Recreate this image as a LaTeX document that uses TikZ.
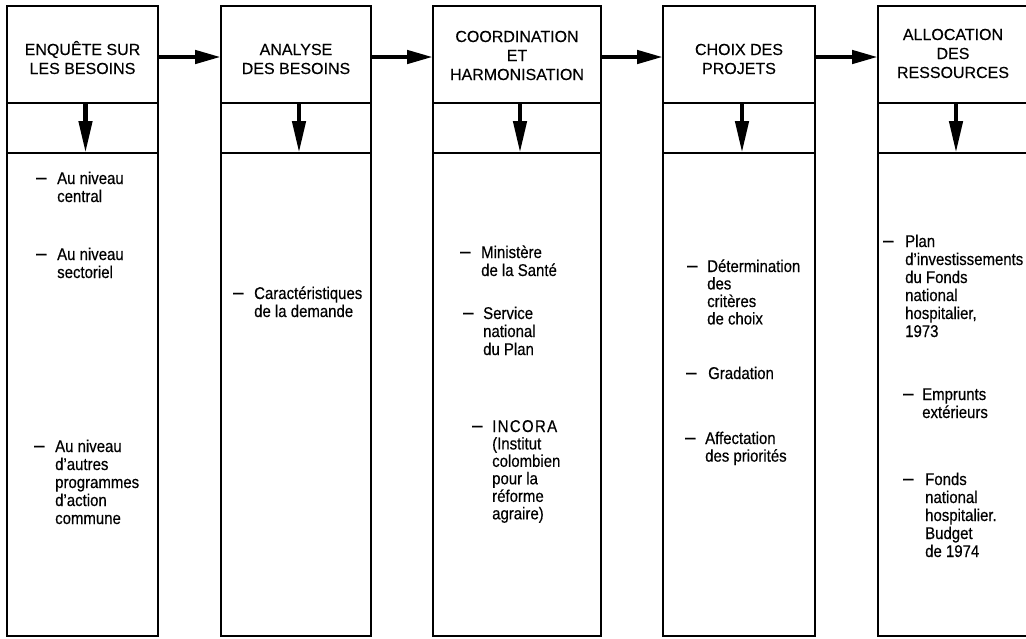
\documentclass[tikz,border=0pt]{standalone}
\usepackage{fontspec}
\setmainfont{Liberation Sans}[FakeBold=0.3]
\newfontfamily\bodyfont[FakeStretch=0.88,FakeBold=0.4]{Liberation Sans}
\usetikzlibrary{arrows.meta}

% one stage: header box, arrow band, list box
% #1 suffix, #2 left x, #3 width
\newcommand\mkstage[3]{%
  \node[frame, minimum width=#3pt, minimum height=97pt, anchor=north west] (h#1) at (#2,6) {};
  \node[frame, minimum width=#3pt, minimum height=50pt, anchor=north west] (b#1) at (h#1.south west) {};
  \node[frame, minimum width=#3pt, minimum height=483pt, anchor=north west] (m#1) at (b#1.south west) {};
}
% list entry: [line spacing]{name}{dash x}{text x}{first baseline}{lines}
\newcommand\bitem[6][18]{%
  \node[dashmark] (#2d) at (#3,#5) {–};
  \node[itm] (#2) at (#4,#5) {\fontsize{17}{#1}\selectfont\begin{tabular}[t]{@{}l@{}}#6\end{tabular}};
}

\begin{document}
\begin{tikzpicture}[x=1pt,y=-1pt,
  frame/.style={draw, line width=1.3pt, inner sep=0pt, outer sep=0pt},
  head/.style={font=\fontsize{16}{19}\selectfont, inner sep=0pt, anchor=base},
  itm/.style={font=\bodyfont, inner sep=0pt, anchor=base west},
  dashmark/.style={font=\bodyfont\fontsize{21}{18}\selectfont, inner sep=0pt, anchor=base west},
  harrow/.style={line width=4.5pt, -{Triangle[length=26pt,width=13pt]}},
  varrow/.style={line width=4.5pt, -{Triangle[length=32pt,width=13pt]}},
]
\useasboundingbox (0,0) rectangle (1026,638);

\mkstage{1}{7}{151}
\mkstage{2}{221}{150}
\mkstage{3}{433}{168}
\mkstage{4}{663}{152}
\mkstage{5}{878}{150}

% stage titles
\node[head] (t1) at (82.5,55) {\begin{tabular}[t]{@{}c@{}}ENQUÊTE SUR\\LES BESOINS\end{tabular}};
\node[head] (t2) at (296,55) {\begin{tabular}[t]{@{}c@{}}ANALYSE\\DES BESOINS\end{tabular}};
\node[head] (t3) at (517,42) {\begin{tabular}[t]{@{}c@{}}COORDINATION\\ET\\HARMONISATION\end{tabular}};
\node[head] (t4) at (739,55) {\begin{tabular}[t]{@{}c@{}}CHOIX DES\\PROJETS\end{tabular}};
\node[head] (t5) at (953,40) {\begin{tabular}[t]{@{}c@{}}ALLOCATION\\DES\\RESSOURCES\end{tabular}};

% enquête
\bitem{e1}{36}{57}{184}{Au niveau\\central}
\bitem{e2}{36}{57}{260}{Au niveau\\sectoriel}
\bitem{e3}{34}{55}{452}{Au niveau\\d’autres\\programmes\\d’action\\commune}
% analyse
\bitem{a1}{233}{254}{299}{Caractéristiques\\de la demande}
% coordination
\bitem{c1}{460}{481}{258}{Ministère\\de la Santé}
\bitem{c2}{463}{483}{319}{Service\\national\\du Plan}
\bitem[17]{c3}{472}{492}{432}{{\addfontfeature{LetterSpace=8}INCORA}\\(Institut\\colombien\\pour la\\réforme\\agraire)}
% choix
\bitem[17]{p1}{687}{707}{272}{Détermination\\des\\critères\\de choix}
\bitem[17]{p2}{686}{708}{379}{Gradation}
\bitem[17]{p3}{685}{705}{444}{Affectation\\des priorités}
% allocation
\bitem{r1}{883}{905}{247}{Plan\\d’investissements\\du Fonds\\national\\hospitalier,\\1973}
\bitem{r2}{903}{922}{400}{Emprunts\\extérieurs}
\bitem{r3}{903}{925}{485}{Fonds\\national\\hospitalier.\\Budget\\de 1974}

% flow between stages
\draw[harrow] ([yshift=-2.5pt]h1.east) -- ([yshift=-2.5pt]h2.west);
\draw[harrow] ([yshift=-2.5pt]h2.east) -- ([yshift=-2.5pt]h3.west);
\draw[harrow] ([yshift=-2.5pt]h3.east) -- ([yshift=-2.5pt]h4.west);
\draw[harrow] ([yshift=-2.5pt]h4.east) -- ([yshift=-2.5pt]h5.west);

% downward arrows inside each stage
\foreach \i in {1,...,5}
  \draw[varrow] ([xshift=3pt]h\i.south) -- ([xshift=3pt]b\i.south);
\end{tikzpicture}
\end{document}
